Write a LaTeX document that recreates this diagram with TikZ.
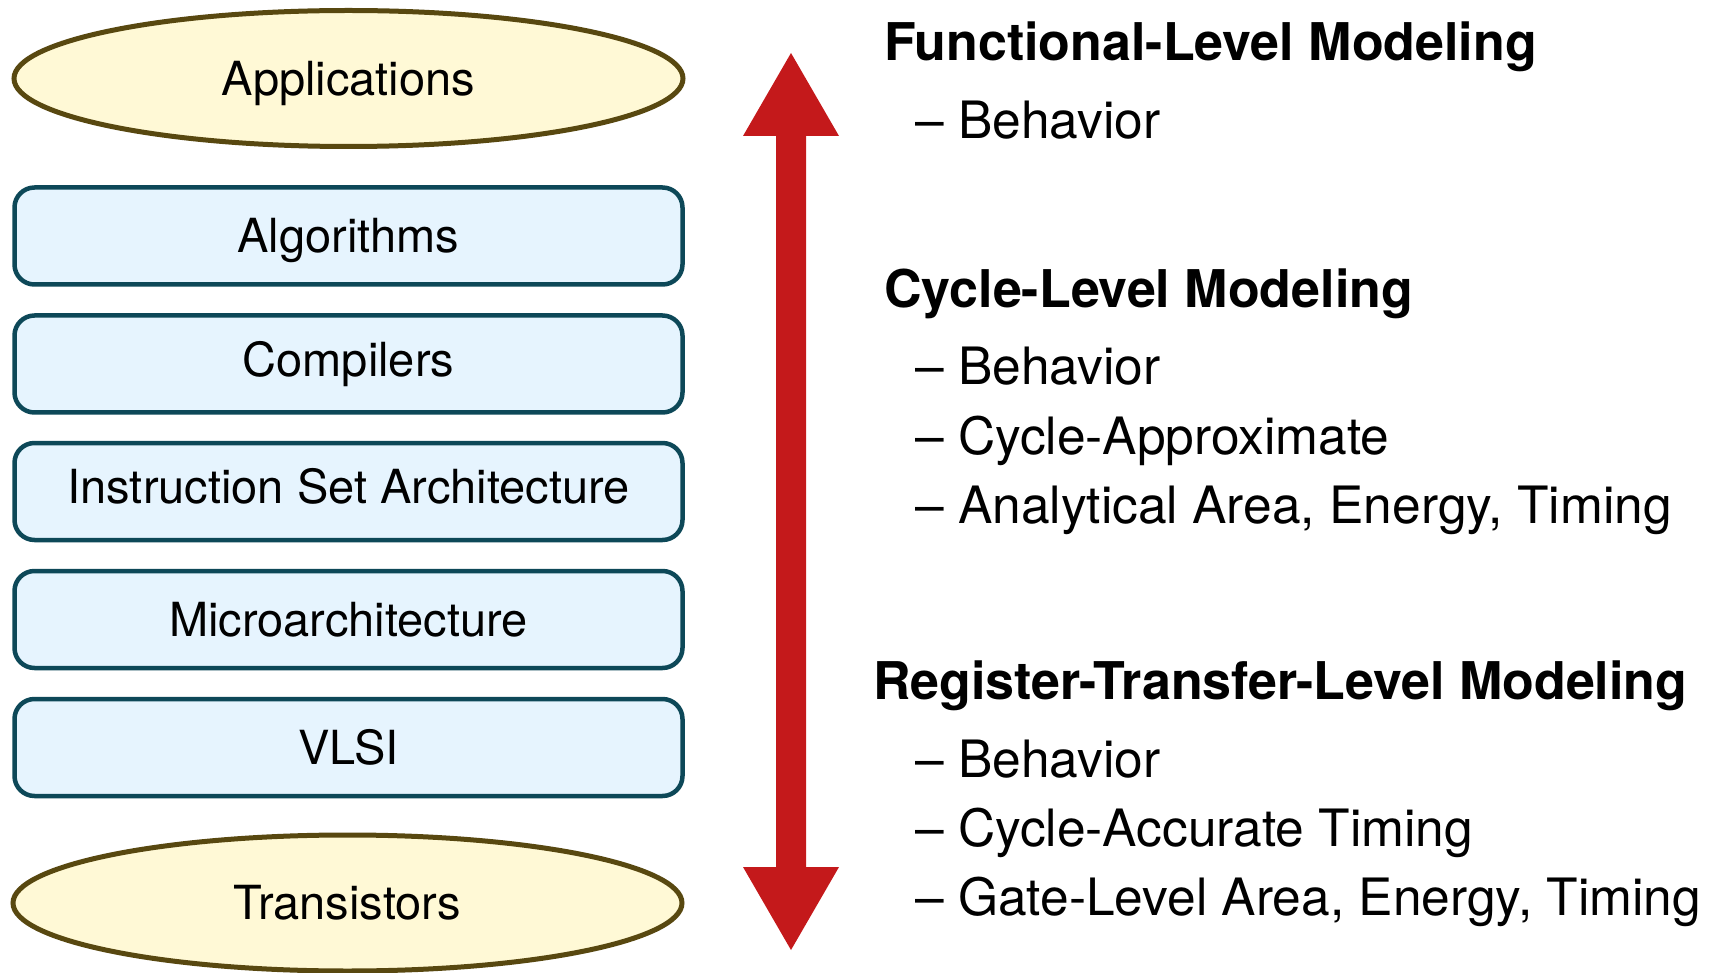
\documentclass[tikz,border=0pt]{standalone}
\usepackage{fontspec}
\setmainfont{TeX Gyre Heros}
\usetikzlibrary{shapes.geometric}
\definecolor{boxline}{HTML}{0D4858}
\definecolor{boxfill}{HTML}{E6F4FE}
\definecolor{ellline}{HTML}{584810}
\definecolor{ellfill}{HTML}{FFF9D6}
\definecolor{arrred}{HTML}{C4191B}
\tikzset{
  layerbox/.style={draw=boxline, fill=boxfill, line width=4.5pt, rounded corners=20pt,
    minimum width=668pt, minimum height=97pt, inner sep=0pt,
    text height=33.8pt, text depth=0pt,
    font=\fontsize{47}{56}\selectfont},
  layerell/.style={ellipse, draw=ellline, fill=ellfill, line width=5pt,
    minimum width=669pt, minimum height=136pt, inner sep=0pt,
    text height=33.8pt, text depth=0pt,
    font=\fontsize{47}{56}\selectfont},
  headtxt/.style={anchor=base west, inner sep=0pt, font=\fontsize{52}{62}\selectfont\bfseries},
  itemtxt/.style={anchor=base west, inner sep=0pt, font=\fontsize{51.5}{61}\selectfont},
}
\begin{document}
\begin{tikzpicture}[x=1pt,y=-1pt]
\useasboundingbox (0,0) rectangle (1711,973);
% left stack
\node[layerell] (app) at (348.5,78.5) {Applications};
\node[layerbox] (alg) at (348.5,236) {Algorithms};
\node[layerbox, text depth=9pt] (comp) at (348.5,364) {Compilers};
\node[layerbox, text depth=9pt] (isa) at (348.5,491.5) {Instruction Set Architecture};
\node[layerbox] (uarch) at (348.5,619.5) {Microarchitecture};
\node[layerbox] (vlsi) at (348.5,747.5) {VLSI};
\node[layerell] (trans) at (347.5,903) {Transistors};
% double arrow
\coordinate (atop) at (791,53);
\coordinate (abot) at (791,950);
\fill[arrred] (atop) -- ++(48,83) -- ++(-33,0) -- (806,867) -- ++(33,0) -- (abot)
  -- ++(-48,-83) -- ++(33,0) -- (776,136) -- ++(-33,0) -- cycle;
% right texts
\node[headtxt] (h1) at (884,61) {Functional-Level Modeling};
\node[itemtxt] (h1a) at (915,139) {– Behavior};
\node[headtxt] (h2) at (884,308) {Cycle-Level Modeling};
\node[itemtxt] (h2a) at (915,385) {– Behavior};
\node[itemtxt] (h2b) at (915,454) {– Cycle-Approximate};
\node[itemtxt] (h2c) at (915,523) {– Analytical Area, Energy, Timing};
\node[headtxt] (h3) at (873,699) {Register-Transfer-Level Modeling};
\node[itemtxt] (h3a) at (915,777) {– Behavior};
\node[itemtxt] (h3b) at (915,846) {– Cycle-Accurate Timing};
\node[itemtxt] (h3c) at (915,915) {– Gate-Level Area, Energy, Timing};
\end{tikzpicture}
\end{document}
